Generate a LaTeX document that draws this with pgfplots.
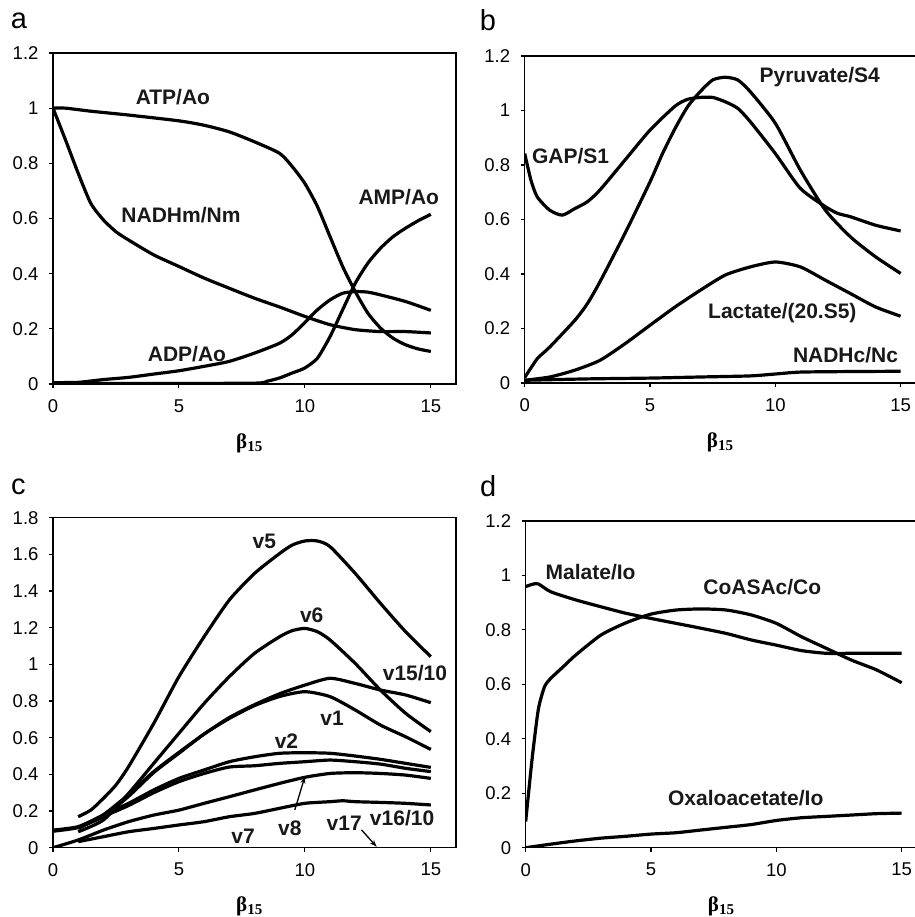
\documentclass[border=0pt]{standalone}
\usepackage{pgfplots}
\pgfplotsset{compat=1.18}
\usepackage{fontspec}
\setmainfont{Liberation Sans}
\newfontfamily\seriffont{Liberation Serif}
\usetikzlibrary{arrows.meta}
\newcommand{\tickfont}{\fontsize{18.5}{20}\selectfont}
\newcommand{\betalab}{{\seriffont\bfseries\fontsize{21}{22}\selectfont β\raisebox{-0.3ex}{\fontsize{15}{16}\selectfont 15}}}
\tikzset{lab/.style={font=\bfseries\fontsize{21}{22}\selectfont, text=black!90}}
\pgfplotsset{
  panel/.style={
    scale only axis, anchor=south west,
    xmin=0, xmax=16, xtick={0,5,10,15},
    tick align=outside, tick pos=left, major tick length=4pt,
    axis line style={line width=1.1pt, black},
    every tick/.style={line width=1.1pt, black},
    /pgf/number format/assume math mode=true,
    /pgf/number format/fixed,
    xticklabel={\tickfont\pgfmathprintnumber{\tick}},
    yticklabel={\tickfont\pgfmathprintnumber{\tick}},
    yticklabel style={xshift=-7pt},
    xticklabel style={yshift=-8pt},
    xlabel={\betalab},
    xlabel style={at={(axis description cs:0.487,0)}, anchor=center, yshift=-59pt},
    every axis plot post/.append style={line width=3.2pt, black, solid, smooth, tension=0.4, mark=none},
    clip=true,
  },
}
\begin{document}
\begin{tikzpicture}
% ---------------- panel a ----------------
\begin{axis}[panel, at={(53pt,533pt)}, width=403pt, height=331pt, ymin=0, ymax=1.2, ytick={0,0.2,...,1.2}]
\addplot coordinates {(0,1.0) (0.5,1.0) (1.5,0.989) (3,0.975) (5,0.954) (6,0.938) (7,0.914) (8,0.878) (9,0.836) (9.5,0.788) (10,0.727) (10.5,0.643) (11,0.534) (11.5,0.426) (12,0.335) (12.5,0.257) (13,0.203) (13.5,0.166) (14,0.142) (14.5,0.127) (15,0.118)};
\addplot coordinates {(0,1.0) (0.5,0.884) (1,0.764) (1.5,0.655) (2,0.595) (2.5,0.552) (3,0.522) (4,0.468) (5,0.426) (6,0.384) (7,0.347) (8,0.311) (9,0.279) (10,0.245) (11,0.215) (12,0.197) (13,0.19) (14,0.19) (15,0.185)};
\addplot coordinates {(0,0.005) (1,0.006) (2,0.016) (3,0.024) (4,0.036) (5,0.048) (6,0.064) (7,0.082) (8,0.112) (9,0.148) (9.5,0.179) (10,0.223) (10.5,0.269) (11,0.305) (11.5,0.329) (12,0.335) (12.5,0.333) (13,0.323) (14,0.299) (15,0.267)};
\addplot coordinates {(0,0.002) (4,0.002) (8,0.003) (8.5,0.01) (9,0.022) (9.5,0.04) (10,0.058) (10.5,0.094) (11,0.172) (11.5,0.269) (12,0.365) (12.5,0.438) (13,0.492) (13.5,0.534) (14,0.565) (14.5,0.592) (15,0.615)};
\node[lab] at (axis cs:4.76,1.04) {ATP/Ao};
\node[lab] at (axis cs:5.08,0.613) {NADHm/Nm};
\node[lab] at (axis cs:13.73,0.678) {AMP/Ao};
\node[lab] at (axis cs:5.32,0.109) {ADP/Ao};
\end{axis}
% ---------------- panel b ----------------
\begin{axis}[panel, at={(524.7pt,534pt)}, width=401pt, height=327pt, ymin=0, ymax=1.2, ytick={0,0.2,...,1.2}]
\addplot coordinates {(0,0.842) (0.25,0.744) (0.5,0.683) (1,0.634) (1.5,0.616) (2,0.64) (2.5,0.665) (3,0.708) (4,0.818) (5,0.928) (6,1.016) (6.5,1.041) (7,1.048) (7.5,1.048) (8,1.032) (8.5,1.008) (9,0.959) (10,0.842) (11,0.714) (12,0.647) (12.5,0.622) (13,0.61) (14,0.579) (15,0.558)};
\addplot coordinates {(0,0.02) (0.5,0.089) (1,0.132) (2,0.23) (2.5,0.291) (3,0.371) (4,0.549) (5,0.738) (5.5,0.842) (6,0.934) (6.5,1.014) (7,1.069) (7.5,1.112) (8,1.122) (8.5,1.112) (9,1.069) (10,0.953) (11,0.781) (12,0.634) (13,0.536) (14,0.463) (15,0.402)};
\addplot coordinates {(0,0.01) (1,0.022) (2,0.047) (3,0.083) (4,0.144) (5,0.212) (6,0.279) (7,0.34) (8,0.396) (9,0.426) (10,0.444) (11,0.426) (12,0.377) (13,0.328) (14,0.279) (15,0.245)};
\addplot coordinates {(0,0.01) (2.5,0.015) (5,0.018) (7,0.022) (9,0.026) (10,0.033) (11,0.04) (13,0.042) (15,0.043)};
\node[lab] at (axis cs:11.77,1.122) {Pyruvate/S4};
\node[lab] at (axis cs:1.83,0.833) {GAP/S1};
\node[lab] at (axis cs:10.28,0.256) {Lactate/(20.S5)};
\node[lab] at (axis cs:12.8,0.103) {NADHc/Nc};
\end{axis}
% ---------------- panel c ----------------
\begin{axis}[panel, at={(53pt,69.3pt)}, width=403pt, height=330pt, ymin=0, ymax=1.8, ytick={0,0.2,...,1.8}]
% v5
\addplot coordinates {(1,0.169) (1.5,0.205) (2,0.269) (2.5,0.342) (3,0.442) (4,0.678) (5,0.933) (6,1.151) (7,1.351) (8,1.496) (9,1.605) (9.5,1.651) (10,1.673) (10.5,1.673) (11,1.642) (12,1.496) (13,1.333) (14,1.178) (15,1.042)};
% v6
\addplot coordinates {(1,0.087) (2,0.151) (3,0.296) (4,0.46) (5,0.624) (6,0.787) (7,0.933) (8,1.06) (9,1.151) (9.5,1.184) (10,1.196) (10.5,1.178) (11,1.133) (12,1.005) (13,0.86) (14,0.733) (15,0.633)};
% v15/10
\addplot coordinates {(1,0.105) (2,0.18) (3,0.29) (4,0.415) (5,0.52) (6,0.62) (7,0.71) (8,0.78) (9,0.84) (10,0.887) (11,0.924) (12,0.896) (13,0.86) (14,0.833) (15,0.791)};
% v1
\addplot coordinates {(1,0.11) (2,0.17) (3,0.28) (4,0.41) (5,0.515) (6,0.62) (7,0.705) (8,0.775) (9,0.825) (10,0.851) (11,0.824) (12,0.751) (13,0.669) (14,0.605) (15,0.536)};
% v2
\addplot coordinates {(0,0.096) (1,0.115) (2,0.178) (3,0.242) (4,0.315) (5,0.378) (6,0.424) (7,0.469) (8,0.496) (9,0.515) (10,0.518) (11,0.515) (12,0.5) (13,0.482) (14,0.46) (15,0.438)};
% second
\addplot coordinates {(0,0.09) (1,0.11) (2,0.17) (3,0.23) (4,0.3) (5,0.36) (6,0.405) (7,0.44) (8,0.447) (9,0.46) (10,0.469) (11,0.478) (12,0.469) (13,0.456) (14,0.433) (15,0.415)};
% v8
\addplot coordinates {(0,0) (1,0.042) (2,0.096) (3,0.142) (4,0.178) (5,0.205) (6,0.242) (7,0.278) (8,0.315) (9,0.351) (10,0.384) (11,0.405) (12,0.409) (13,0.405) (14,0.396) (15,0.378)};
% low
\addplot coordinates {(1,0.033) (2,0.06) (3,0.087) (4,0.105) (5,0.124) (6,0.142) (7,0.169) (8,0.187) (9,0.215) (10,0.242) (11,0.251) (11.5,0.256) (12,0.251) (13,0.247) (14,0.242) (15,0.233)};
\node[lab] at (axis cs:8.39,1.673) {v5};
\node[lab] at (axis cs:10.27,1.27) {v6};
\node[lab] at (axis cs:14.37,0.955) {v15/10};
\node[lab] at (axis cs:11.08,0.706) {v1};
\node[lab] at (axis cs:9.27,0.582) {v2};
\node[lab] at (axis cs:9.4,0.106) {v8};
\node[lab] at (axis cs:7.55,0.064) {v7};
\node[lab] at (axis cs:11.56,0.133) {v17};
\node[lab] at (axis cs:13.86,0.16) {v16/10};
\draw[line width=1.3pt, -{Stealth[length=7pt,width=5pt]}] (axis cs:9.6,0.206) -- (axis cs:10.0,0.388);
\draw[line width=1.3pt, -{Stealth[length=7pt,width=5pt]}] (axis cs:12.25,0.097) -- (axis cs:12.85,0.005);
\end{axis}
% ---------------- panel d ----------------
\begin{axis}[panel, at={(525.7pt,69.3pt)}, width=401pt, height=326.7pt, ymin=0, ymax=1.2, ytick={0,0.2,...,1.2}]
\addplot coordinates {(0,0.959) (0.25,0.967) (0.5,0.969) (1,0.94) (2,0.91) (3,0.885) (4,0.861) (5,0.842) (6,0.824) (7,0.806) (8,0.787) (9,0.763) (10,0.744) (11,0.724) (12,0.714) (13,0.714) (15,0.714)};
\addplot+[tension=0.25] coordinates {(0,0.096) (0.25,0.322) (0.5,0.506) (0.75,0.591) (1,0.622) (1.5,0.665) (2,0.708) (3,0.781) (4,0.826) (5,0.858) (6,0.873) (7,0.877) (8,0.873) (9,0.855) (10,0.824) (11,0.775) (12,0.732) (13,0.689) (14,0.653) (15,0.606)};
\addplot coordinates {(0,0) (1,0.013) (2,0.025) (3,0.035) (4,0.042) (5,0.05) (6,0.055) (7,0.065) (8,0.075) (9,0.085) (10,0.1) (11,0.11) (12,0.115) (13,0.12) (14,0.125) (15,0.127)};
\node[lab] at (axis cs:2.59,1.014) {Malate/Io};
\node[lab] at (axis cs:9.44,0.959) {CoASAc/Co};
\node[lab] at (axis cs:8.78,0.181) {Oxaloacetate/Io};
\end{axis}
% panel letters
\node[font=\fontsize{29}{30}\selectfont] at (19pt,896pt) {a};
\node[font=\fontsize{29}{30}\selectfont] at (488pt,897pt) {b};
\node[font=\fontsize{29}{30}\selectfont] at (18.3pt,429.7pt) {c};
\node[font=\fontsize{29}{30}\selectfont] at (488.3pt,431pt) {d};
\pgfresetboundingbox
\path[use as bounding box] (0pt,0pt) rectangle (914pt,917pt);
\end{tikzpicture}
\end{document}
